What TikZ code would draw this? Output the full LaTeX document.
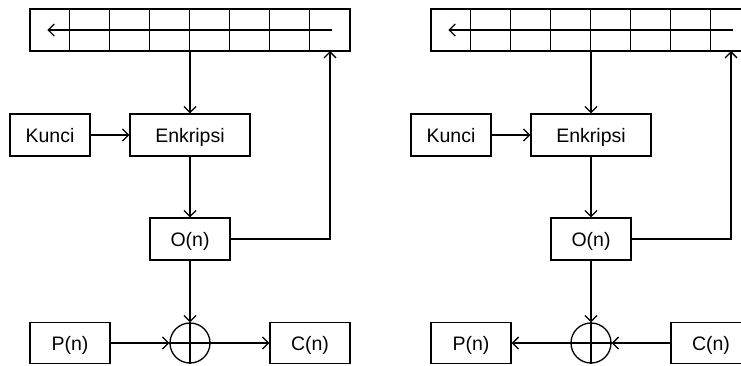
\documentclass[tikz,border=0pt]{standalone}
\usepackage{fontspec}
\setmainfont{Liberation Sans}
\usetikzlibrary{arrows.meta}
\begin{document}
\begin{tikzpicture}[x=1pt,y=-1pt,
  line width=1.3pt,
  tip/.style={-{Straight Barb[length=6pt,width=12pt]}},
  blk/.style={draw, rectangle, inner sep=0pt, minimum height=42pt,
    font=\fontsize{19.5}{23}\selectfont, text height=14pt, text depth=0pt},
  shiftreg/.style={draw, rectangle, inner sep=0pt, minimum width=320pt, minimum height=42pt},
  xorgate/.style={draw, circle, inner sep=0pt, minimum size=40pt}
]
\useasboundingbox (0,0) rectangle (741,365);

% one OFB stage: shift register, key, cipher block, output block, XOR
\newcommand\ofbstage[2]{%
  \begin{scope}[xshift=#2]
    \node[shiftreg] (#1reg) at (190,30) {};
    \foreach \i in {1,...,7}
      \draw ([xshift={40*\i}]#1reg.north west) -- ([xshift={40*\i}]#1reg.south west);
    \draw[tip] ([xshift=-19]#1reg.east) -- ([xshift=18]#1reg.west);
    \node[blk, minimum width=80pt]  (#1key) at (50,135)  {Kunci};
    \node[blk, minimum width=120pt] (#1enc) at (190,135) {Enkripsi};
    \node[blk, minimum width=80pt]  (#1out) at (190,239) {O(n)};
    \node[xorgate] (#1xor) at (190,343) {};
    \node[blk, minimum width=80pt, minimum height=41pt] (#1p) at (70,343)  {P(n)};
    \node[blk, minimum width=80pt, minimum height=41pt] (#1c) at (310,343) {C(n)};
    \coordinate (#1fb) at (330,51);
    \draw[tip] (#1reg.south) -- (#1enc.north);
    \draw[tip] (#1key) -- (#1enc);
    \draw[tip] (#1enc) -- (#1out);
    \draw[tip] (#1out.east) -| (#1fb);
    \draw[tip] (#1out) -- (#1xor);
    \draw (#1xor.north) -- (#1xor.south) (#1xor.west) -- (#1xor.east);
  \end{scope}}

\ofbstage{L}{0}
\ofbstage{R}{401}

% encryption side
\draw[tip] (Lp) -- (Lxor);
\draw[tip] (Lxor) -- (Lc);
% decryption side
\draw[tip] (Rc) -- (Rxor);
\draw[tip] (Rxor) -- (Rp);
\end{tikzpicture}
\end{document}
